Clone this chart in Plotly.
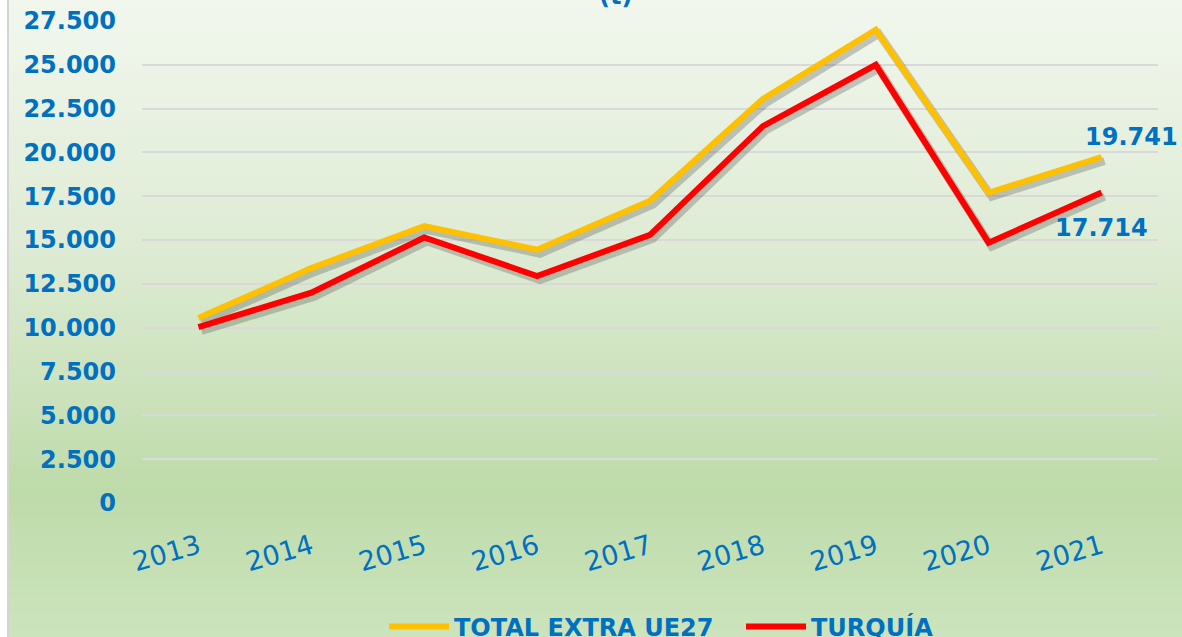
import plotly.graph_objects as go

years = ["2013", "2014", "2015", "2016", "2017", "2018", "2019", "2020", "2021"]
total_extra_ue27 = [10550, 13400, 15800, 14450, 17250, 23050, 27000, 17700, 19741]
turquia = [10040, 12000, 15150, 12950, 15300, 21500, 25000, 14850, 17714]
y_ticks = list(range(0, 27501, 2500))

W, H = 1182, 637
L, R, T, B = 142, 24, 21, 134
PW, PH = W - L - R, H - T - B
BLUE = "#0070C0"


def px_x(p):
    return (p - L) / PW


def px_y(p):
    return (H - B - p) / PH


def fmt(v):
    return f"{v:,}".replace(",", ".")


# background gradient stops (pixel y, rgb)
stops = [(0, (242, 247, 238)), (250, (222, 235, 212)), (490, (190, 219, 170)), (637, (204, 228, 188))]


def col_at(p):
    for (p0, c0), (p1, c1) in zip(stops[:-1], stops[1:]):
        if p0 <= p <= p1:
            t = (p - p0) / (p1 - p0)
            return "rgb(%d,%d,%d)" % tuple(round(a + (b - a) * t) for a, b in zip(c0, c1))
    return "rgb(%d,%d,%d)" % stops[-1][1]


shapes = []
n = 80
for i in range(n):
    y0 = H * i / n
    y1 = H * (i + 1) / n + 0.6
    shapes.append(dict(type="rect", xref="paper", yref="paper", layer="below",
                       x0=px_x(8), x1=px_x(W + 2), y0=px_y(y1), y1=px_y(y0),
                       fillcolor=col_at((y0 + y1) / 2), line=dict(width=0)))
shapes.append(dict(type="line", xref="paper", yref="paper", layer="below",
                   x0=px_x(8), x1=px_x(8), y0=px_y(H + 2), y1=px_y(-2),
                   line=dict(color="#D4D4D4", width=2)))

fig = go.Figure()

# shadows on base axes (shifted range), main lines on overlay axes
for vals in (total_extra_ue27, turquia):
    fig.add_trace(go.Scatter(x=years, y=vals, mode="lines", xaxis="x", yaxis="y",
                             line=dict(color="rgba(40,40,40,0.24)", width=8),
                             showlegend=False, hoverinfo="skip"))

fig.add_trace(go.Scatter(x=years, y=total_extra_ue27, mode="lines", name="TOTAL EXTRA UE27",
                         xaxis="x2", yaxis="y2", line=dict(color="#FFC000", width=6)))
fig.add_trace(go.Scatter(x=years, y=turquia, mode="lines", name="TURQUÍA",
                         xaxis="x2", yaxis="y2", line=dict(color="#FF0000", width=6)))

dx = 3 * 9 / PW
dy = 4 * 27500 / PH

last = len(years) - 1
annotations = [
    dict(x=last, y=total_extra_ue27[-1], xref="x2", yref="y2", text=fmt(total_extra_ue27[-1]),
         showarrow=False, xshift=30, yshift=20, xanchor="center", yanchor="middle",
         font=dict(family="DejaVu Sans", size=24, color=BLUE, weight="bold")),
    dict(x=last, y=turquia[-1], xref="x2", yref="y2", text=fmt(turquia[-1]),
         showarrow=False, xshift=0, yshift=-35, xanchor="center", yanchor="middle",
         font=dict(family="DejaVu Sans", size=24, color=BLUE, weight="bold")),
    dict(x=px_x(615), y=px_y(-4), xref="paper", yref="paper", text="(t)", showarrow=False,
         xanchor="center", yanchor="middle",
         font=dict(family="DejaVu Sans", size=24, color=BLUE, weight="bold")),
]

fig.update_layout(
    width=W, height=H,
    margin=dict(l=L, r=R, t=T, b=B, autoexpand=False),
    paper_bgcolor="white",
    plot_bgcolor="rgba(0,0,0,0)",
    separators=",.",
    shapes=shapes,
    annotations=annotations,
    xaxis=dict(type="category", categoryorder="array", categoryarray=years,
               range=[-0.5 - dx, 8.5 - dx], visible=False, fixedrange=True),
    yaxis=dict(range=[0 + dy, 27500 + dy], visible=False, fixedrange=True),
    xaxis2=dict(type="category", categoryorder="array", categoryarray=years,
                overlaying="x", range=[-0.5, 8.5], showgrid=False, zeroline=False,
                showline=False, ticks="", tickangle=-16, ticklabelstandoff=22,
                tickfont=dict(family="DejaVu Sans", size=27, color=BLUE)),
    yaxis2=dict(overlaying="y", side="left", range=[0, 27500], tickvals=y_ticks,
                tickformat=",d", showgrid=True, gridcolor="#D9D9D9", gridwidth=2,
                zeroline=False, showline=False, ticks="", ticklabelstandoff=25,
                tickfont=dict(family="DejaVu Sans", size=24, color=BLUE, weight="bold")),
    legend=dict(orientation="h", x=px_x(384), xanchor="left", y=px_y(627), yanchor="middle",
                bgcolor="rgba(0,0,0,0)", itemwidth=60, entrywidth=282,
                font=dict(family="DejaVu Sans", size=24, color=BLUE, weight="bold")),
    showlegend=True,
)

fig.write_html("out.html", config={"displayModeBar": False},
               post_script="document.body.style.margin='0';document.body.style.overflow='hidden';")
